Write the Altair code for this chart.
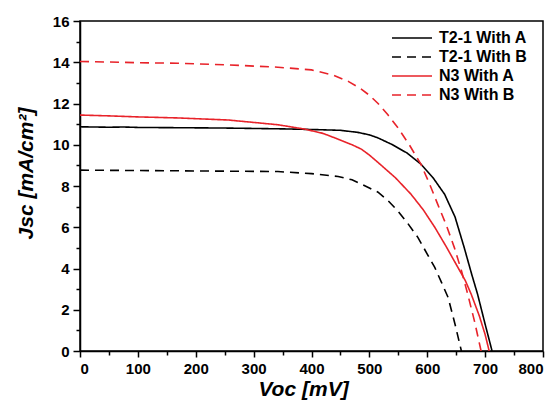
import altair as alt
import pandas as pd

series_names = ["T2-1 With A", "T2-1 With B", "N3 With A", "N3 With B"]
series_colors = ["#000000", "#000000", "#e8232a", "#e8232a"]
series_dash = [[1, 0], [9, 6], [1, 0], [9, 6]]

t2a_v = [0, 25, 50, 75, 100, 150, 200, 250, 300, 350, 400, 450, 480, 500, 515, 540, 565, 589, 610, 630, 648, 664, 677, 687, 700, 712]
t2a_j = [10.87, 10.86, 10.85, 10.86, 10.84, 10.83, 10.82, 10.81, 10.79, 10.77, 10.74, 10.70, 10.6, 10.48, 10.33, 10.0, 9.6, 9.06, 8.4, 7.6, 6.5, 5.0, 3.7, 2.75, 1.3, 0]

t2b_v = [0, 50, 100, 150, 200, 250, 300, 342, 400, 446, 470, 486, 500, 515, 532, 549, 566, 584, 600, 613, 625, 636, 648, 659]
t2b_j = [8.77, 8.76, 8.75, 8.74, 8.73, 8.72, 8.71, 8.7, 8.6, 8.46, 8.3, 8.09, 7.9, 7.7, 7.3, 6.8, 6.2, 5.5, 4.7, 4.05, 3.3, 2.6, 1.3, 0]

n3a_v = [0, 50, 100, 169, 256, 342, 388, 420, 446, 470, 486, 500, 515, 545, 572, 593, 613, 633, 653, 666, 676, 690, 700, 707]
n3a_j = [11.44, 11.4, 11.35, 11.3, 11.2, 10.97, 10.76, 10.55, 10.27, 10.0, 9.79, 9.5, 9.14, 8.4, 7.6, 6.85, 6.0, 5.05, 4.05, 3.4, 2.75, 1.7, 0.8, 0]

n3b_v = [0, 100, 169, 250, 342, 400, 437, 465, 486, 500, 515, 532, 549, 570, 589, 604, 618, 633, 647, 659, 670, 682, 693]
n3b_j = [14.04, 13.98, 13.95, 13.88, 13.76, 13.63, 13.38, 13.05, 12.7, 12.4, 12.0, 11.45, 10.84, 9.95, 9.06, 8.1, 7.12, 6.1, 5.0, 3.9, 2.75, 1.4, 0]

x_major = list(range(0, 801, 100))
x_minor = list(range(50, 800, 100))
y_major = list(range(0, 17, 2))
y_minor = list(range(1, 16, 2))

rows = []
for name, vs, js in [
    ("T2-1 With A", t2a_v, t2a_j),
    ("T2-1 With B", t2b_v, t2b_j),
    ("N3 With A", n3a_v, n3a_j),
    ("N3 With B", n3b_v, n3b_j),
]:
    for i, (v, j) in enumerate(zip(vs, js)):
        rows.append({"series": name, "V": v, "J": j, "order": i})
df = pd.DataFrame(rows)

font = "Liberation Sans"
xscale = alt.Scale(domain=[0, 800], nice=False)
yscale = alt.Scale(domain=[0, 16], nice=False)

legend = alt.Legend(
    title=None,
    orient="none",
    legendX=321,
    legendY=6,
    symbolType="M-2,0H2",
    symbolSize=400,
    symbolStrokeWidth=1.6,
    labelFont=font,
    labelFontSize=16,
    labelFontWeight="bold",
    labelColor="#000000",
    labelOffset=16,
    rowPadding=0,
    padding=0,
)

lines = alt.Chart(df).mark_line(strokeWidth=1.6, clip=True).encode(
    x=alt.X(
        "V:Q",
        scale=xscale,
        axis=alt.Axis(title="Voc [mV]", values=x_major, ticks=True, tickSize=6, grid=False,
                      orient="bottom", titleX=223),
    ),
    y=alt.Y(
        "J:Q",
        scale=yscale,
        axis=alt.Axis(title="Jsc [mA/cm²]", values=y_major, ticks=True, tickSize=7, grid=False,
                      orient="left", titleY=152),
    ),
    color=alt.Color("series:N", scale=alt.Scale(domain=series_names, range=series_colors), legend=legend),
    strokeDash=alt.StrokeDash("series:N", scale=alt.Scale(domain=series_names, range=series_dash), legend=legend),
    order="order:Q",
)

minor = alt.Chart(df).mark_line(opacity=0).encode(
    x=alt.X(
        "V:Q",
        scale=xscale,
        axis=alt.Axis(title=None, values=x_minor, ticks=True, tickSize=4, labels=False, domain=False, grid=False, orient="bottom"),
    ),
    y=alt.Y(
        "J:Q",
        scale=yscale,
        axis=alt.Axis(title=None, values=y_minor, ticks=True, tickSize=4, labels=False, domain=False, grid=False, orient="left"),
    ),
    detail="series:N",
    order="order:Q",
)

chart = alt.layer(lines, minor).resolve_scale(x="independent", y="independent").properties(
    width=463,
    height=330,
    padding={"left": 7, "top": 6, "right": 5, "bottom": 5},
).configure_view(
    stroke="#000000", strokeWidth=1.5
).configure_axis(
    domainColor="#000000",
    domainWidth=1.5,
    ticks=True,
    tickColor="#000000",
    tickWidth=1.5,
    tickOpacity=1,
    labelFont=font,
    labelFontSize=15,
    labelFontWeight="bold",
    labelColor="#000000",
    labelPadding=4,
    titleFont=font,
    titleFontSize=21,
    titleFontWeight="bold",
    titleFontStyle="italic",
    titleColor="#000000",
).configure_axisY(titlePadding=16).configure_axisX(titlePadding=2)

chart.save("out.html", embed_options={"renderer": "svg", "actions": False})
